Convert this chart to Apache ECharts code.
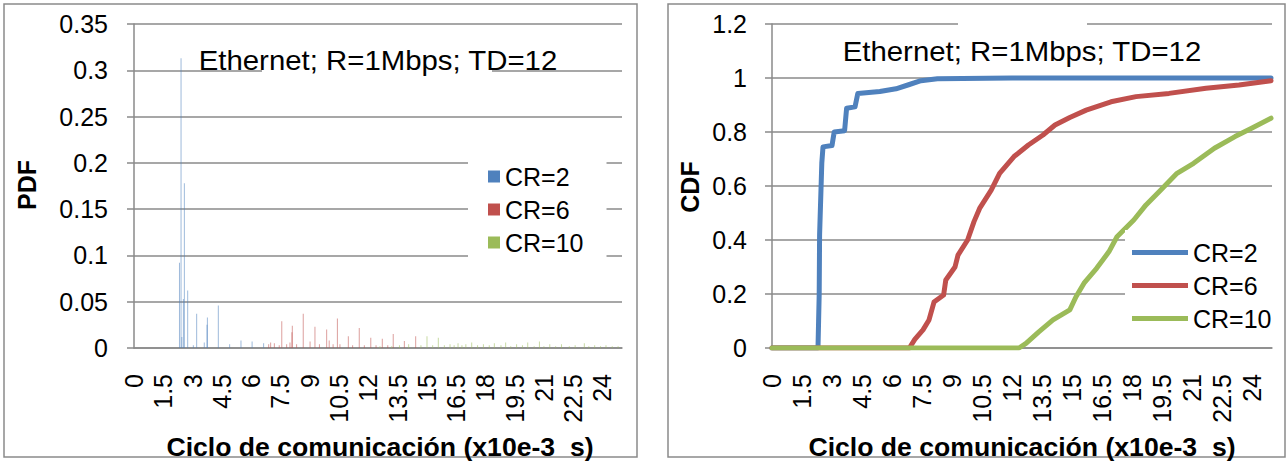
<!DOCTYPE html>
<html>
<head>
<meta charset="utf-8">
<script src="https://cdn.jsdelivr.net/npm/echarts@6/dist/echarts.min.js"></script>
<style>
  html, body { margin: 0; padding: 0; background: #fff; }
  #chart { width: 1287px; height: 461px; }
</style>
</head>
<body>
<div id="chart"></div>
<script>
// Series names and colours
const seriesNames = ['CR=2', 'CR=6', 'CR=10'];
const seriesColors = ['#4F81BD', '#C0504D', '#9BBB59'];

// Axis set-up: communication cycle in x10e-3 s
const xMin = 0, xMax = 25, xStep = 1.5, xLastLabel = 24;
const pdfMax = 0.35, pdfStep = 0.05;
const cdfMax = 1.2, cdfStep = 0.2;

// PDF spikes: [cycle, probability]
const pdfCR2 = [
  [2.33, 0.092], [2.41, 0.313], [2.45, 0.012], [2.53, 0.053], [2.58, 0.178],
  [2.75, 0.062], [3.04, 0.003], [3.21, 0.037], [3.6, 0.006], [3.74, 0.025],
  [3.76, 0.033], [4.32, 0.046], [4.9, 0.004], [5.48, 0.008], [6.05, 0.007],
  [6.64, 0.005]
];
const pdfCR6 = [
  [6.9, 0.004], [7.0, 0.006], [7.19, 0.005], [7.44, 0.003], [7.57, 0.029],
  [7.82, 0.004], [7.99, 0.006], [8.09, 0.017], [8.11, 0.024], [8.33, 0.004],
  [8.67, 0.037], [9.02, 0.007], [9.27, 0.023], [9.5, 0.004], [9.87, 0.020],
  [10.0, 0.008], [10.2, 0.004], [10.42, 0.032], [10.55, 0.004], [10.98, 0.0127],
  [11.2, 0.003], [11.54, 0.0217], [11.8, 0.003], [12.13, 0.011], [12.4, 0.003],
  [12.72, 0.010], [13.0, 0.003], [13.28, 0.015], [13.85, 0.0076], [14.43, 0.0127]
];
const pdfCR10 = [
  [12.6, 0.002], [13.2, 0.002], [13.6, 0.003], [14.07, 0.004], [14.7, 0.003],
  [15.01, 0.0127], [15.3, 0.003], [15.59, 0.011], [15.9, 0.003], [16.19, 0.004],
  [16.4, 0.003], [16.6, 0.005], [16.8, 0.003], [17.0, 0.004], [17.3, 0.006],
  [17.6, 0.003], [17.9, 0.004], [18.2, 0.003], [18.46, 0.005], [18.8, 0.003],
  [19.04, 0.006], [19.3, 0.002], [19.6, 0.004], [19.9, 0.003], [20.17, 0.006],
  [20.5, 0.002], [20.77, 0.007], [21.0, 0.002], [21.3, 0.004], [21.6, 0.002],
  [21.9, 0.004], [22.3, 0.002], [22.6, 0.003], [23.07, 0.005], [23.3, 0.002],
  [23.6, 0.003], [23.9, 0.002], [24.18, 0.003], [24.5, 0.002], [24.8, 0.002]
];

// CDF curves: [cycle, cumulative probability]
const cdfCR2 = [
  [0, 0], [2.3, 0], [2.33, 0.1], [2.36, 0.2], [2.38, 0.42], [2.49, 0.685],
  [2.55, 0.745], [3.0, 0.75], [3.11, 0.80], [3.63, 0.805], [3.73, 0.888],
  [4.15, 0.893], [4.29, 0.943], [5.39, 0.95], [6.2, 0.96], [6.83, 0.975],
  [7.45, 0.99], [8.27, 0.997], [12, 1], [24.95, 1]
];
const cdfCR6 = [
  [0, 0], [6.87, 0], [7.14, 0.032], [7.55, 0.067], [7.85, 0.104], [8.1, 0.17],
  [8.58, 0.196], [8.69, 0.252], [9.15, 0.30], [9.3, 0.344], [9.78, 0.40],
  [10.1, 0.468], [10.38, 0.517], [10.96, 0.585], [11.38, 0.647], [12.1, 0.709],
  [12.82, 0.752], [13.55, 0.789], [14.15, 0.826], [14.89, 0.854], [15.71, 0.881],
  [16.95, 0.912], [18.2, 0.931], [19.85, 0.943], [21.7, 0.962], [23.35, 0.974],
  [24.95, 0.99]
];
const cdfCR10 = [
  [0, 0], [12.35, 0], [12.7, 0.017], [13.34, 0.06], [14.05, 0.104], [14.89, 0.141],
  [15.2, 0.19], [15.6, 0.24], [16.23, 0.295], [16.85, 0.357], [17.25, 0.412],
  [18.09, 0.474], [18.7, 0.53], [19.44, 0.585], [20.25, 0.647], [21.08, 0.684],
  [22.12, 0.74], [23.15, 0.783], [23.98, 0.814], [24.95, 0.851]
];

// Text
const chartTitle = 'Ethernet; R=1Mbps; TD=12';
const xTitle = 'Ciclo de comunicación (x10e-3  s)';
const pdfTitle = 'PDF';
const cdfTitle = 'CDF';

const FONT = '"Liberation Sans", Arial, sans-serif';
const GRAY = '#8a8a8a';

function xAxisFor(gridIndex) {
  return {
    type: 'value', gridIndex, min: xMin, max: xMax, interval: xStep,
    axisLine: { show: true, onZero: false, lineStyle: { color: GRAY, width: 1.5 } },
    axisTick: { show: false },
    splitLine: { show: false },
    axisLabel: {
      rotate: 90, margin: 26, fontSize: 25, color: '#000', fontFamily: FONT,
      padding: [5, 0, 0, 0],
      formatter: v => (v > xLastLabel + 0.01 ? '' : String(v))
    }
  };
}
function yAxisFor(gridIndex, max, step, margin) {
  return {
    type: 'value', gridIndex, min: 0, max, interval: step,
    axisLine: { show: true, lineStyle: { color: GRAY, width: 1.5 } },
    axisTick: { show: true, length: 7, lineStyle: { color: GRAY, width: 1.5 } },
    splitLine: { show: true, lineStyle: { color: GRAY, width: 1.5 } },
    axisLabel: { margin, fontSize: 25, color: '#000', fontFamily: FONT }
  };
}

const pdfData = [pdfCR2, pdfCR6, pdfCR10];
const cdfData = [cdfCR2, cdfCR6, cdfCR10];

const barSeries = seriesNames.map((name, i) => ({
  name, type: 'bar', xAxisIndex: 0, yAxisIndex: 0,
  data: pdfData[i], barWidth: 1, barGap: '-100%',
  itemStyle: { color: seriesColors[i], opacity: 0.55 },
  emphasis: { disabled: true }, silent: true
}));
const lineSeries = seriesNames.map((name, i) => ({
  name, type: 'line', xAxisIndex: 1, yAxisIndex: 1,
  data: cdfData[i], showSymbol: false, symbol: 'none',
  lineStyle: { color: seriesColors[i], width: 5, cap: 'round', join: 'round' },
  itemStyle: { color: seriesColors[i] },
  emphasis: { disabled: true }, silent: true
}));

const legendText = { fontSize: 25, fontFamily: FONT, color: '#000', lineHeight: 25 };

const chart = echarts.init(document.getElementById('chart'), null, { renderer: 'svg' });
chart.setOption({
  animation: false,
  backgroundColor: '#fff',
  grid: [
    { left: 134, top: 24, width: 488, height: 324 },
    { left: 772, top: 24, width: 500, height: 324 }
  ],
  xAxis: [xAxisFor(0), xAxisFor(1)],
  yAxis: [yAxisFor(0, pdfMax, pdfStep, 26), yAxisFor(1, cdfMax, cdfStep, 25)],
  legend: [
    {
      data: seriesNames, orient: 'vertical', left: 468, top: 150,
      padding: [14, 23, 14, 20], itemWidth: 12, itemHeight: 12, itemGap: 8,
      icon: 'rect', backgroundColor: '#fff', selectedMode: false,
      itemStyle: { opacity: 1 }, textStyle: legendText
    },
    {
      data: seriesNames, orient: 'vertical', left: 1125, top: 230,
      padding: [10, 6, 10, 7], itemWidth: 56, itemHeight: 5, itemGap: 8,
      icon: 'rect', backgroundColor: '#fff', selectedMode: false,
      itemStyle: { opacity: 1 }, textStyle: legendText
    }
  ],
  graphic: [
    // panel frames
    { type: 'rect', z: 0, shape: { x: 4, y: 4, width: 633, height: 453 },
      style: { fill: 'none', stroke: GRAY, lineWidth: 1.5 } },
    { type: 'rect', z: 0, shape: { x: 668, y: 4, width: 617, height: 453 },
      style: { fill: 'none', stroke: GRAY, lineWidth: 1.5 } },
    // title boxes
    { type: 'rect', z: 10, shape: { x: 262, y: 62, width: 230, height: 16 },
      style: { fill: '#fff' } },
    { type: 'rect', z: 10, shape: { x: 958, y: 16, width: 129, height: 16 },
      style: { fill: '#fff' } },
    { type: 'text', z: 11, x: 378, y: 60, scaleX: 1.088,
      style: { text: chartTitle, font: '27px ' + FONT, fill: '#000', align: 'center', verticalAlign: 'middle' } },
    { type: 'text', z: 11, x: 1022, y: 51, scaleX: 1.088,
      style: { text: chartTitle, font: '27px ' + FONT, fill: '#000', align: 'center', verticalAlign: 'middle' } },
    // axis titles
    { type: 'text', z: 11, x: 27, y: 185, rotation: Math.PI / 2,
      style: { text: pdfTitle, font: 'bold 25px ' + FONT, fill: '#000', align: 'center', verticalAlign: 'middle' } },
    { type: 'text', z: 11, x: 690, y: 187, rotation: Math.PI / 2,
      style: { text: cdfTitle, font: 'bold 25px ' + FONT, fill: '#000', align: 'center', verticalAlign: 'middle' } },
    { type: 'text', z: 11, x: 380, y: 447,
      style: { text: xTitle, font: 'bold 26.6px ' + FONT, fill: '#000', align: 'center', verticalAlign: 'middle' } },
    { type: 'text', z: 11, x: 1022, y: 447,
      style: { text: xTitle, font: 'bold 26.6px ' + FONT, fill: '#000', align: 'center', verticalAlign: 'middle' } }
  ],
  series: barSeries.concat(lineSeries)
});
</script>
</body>
</html>
